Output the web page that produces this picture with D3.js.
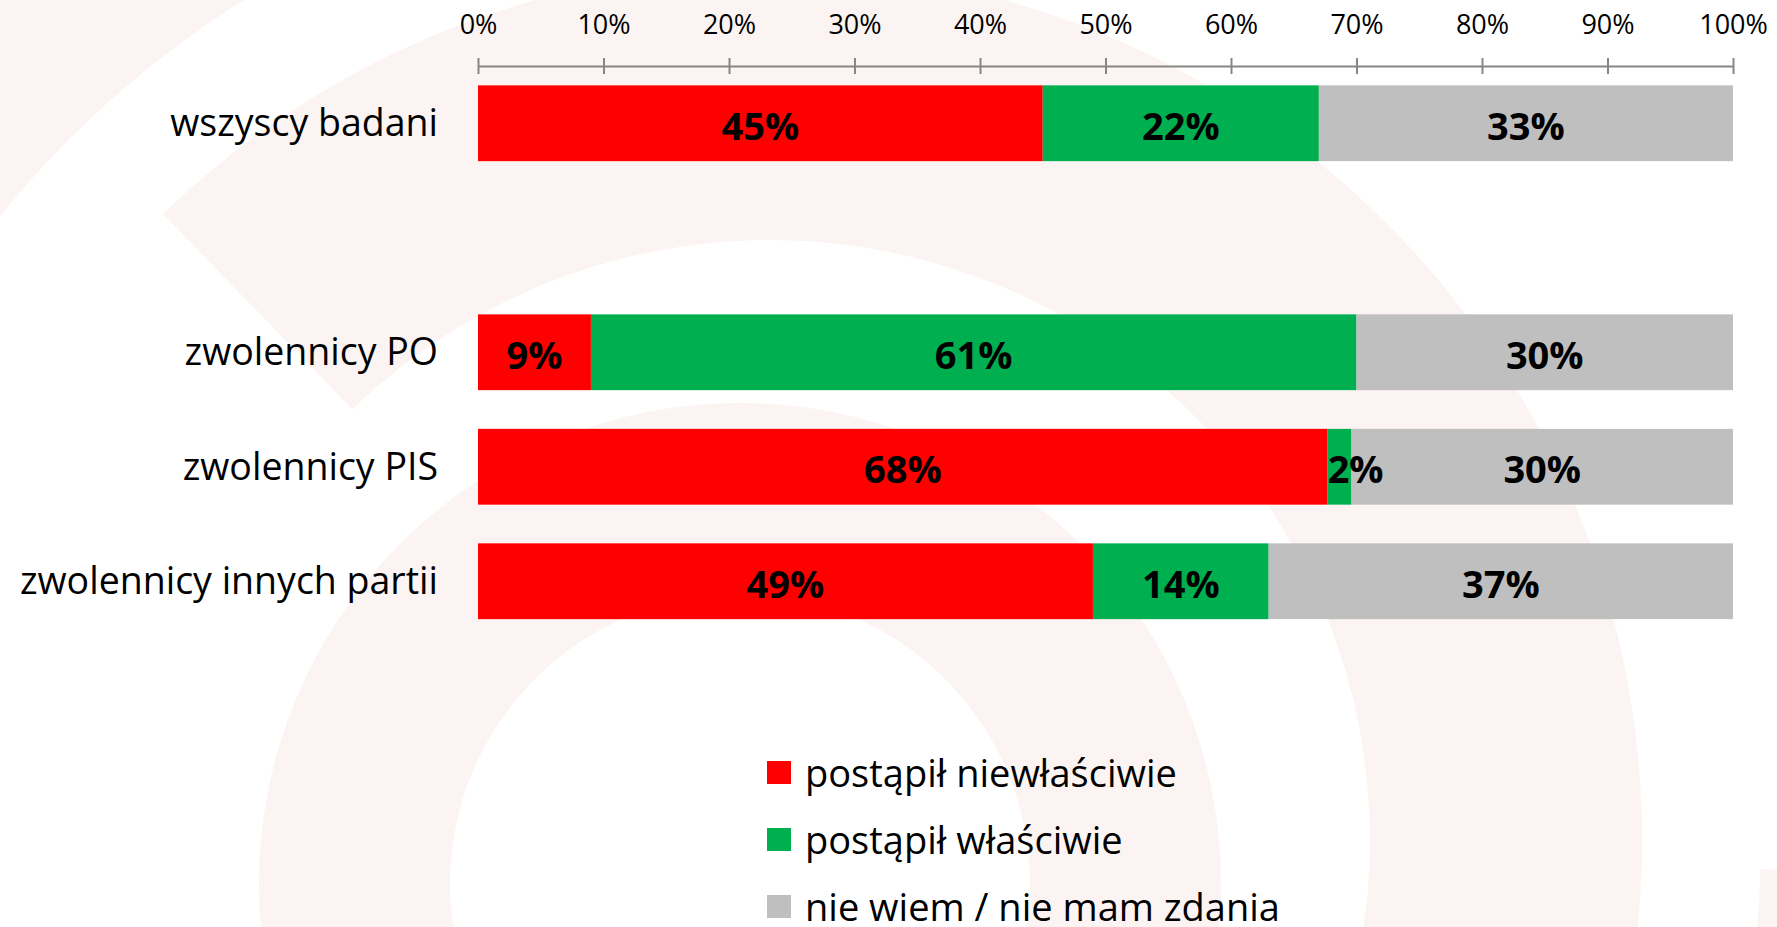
<!DOCTYPE html>
<html>
<head>
<meta charset="utf-8">
<script src="https://cdn.jsdelivr.net/npm/d3@7"></script>
<style>
  html, body { margin: 0; padding: 0; background: #fff; }
  svg { display: block; font-family: "Open Sans", sans-serif; }
</style>
</head>
<body>
<div id="chart"></div>
<script>
// categories (the blank one is the empty row under "wszyscy badani")
var categories = ['wszyscy badani', '', 'zwolennicy PO', 'zwolennicy PIS', 'zwolennicy innych partii'];

var seriesNames = ['postąpił niewłaściwie', 'postąpił właściwie', 'nie wiem / nie mam zdania'];
var seriesColors = ['#ff0000', '#00b050', '#bfbfbf'];

var niewlasciwie = [45, null, 9, 67.7, 49];
var wlasciwie = [22, null, 61, 1.9, 14];
var nieWiem = [33, null, 30, 30.4, 37];

var tickValues = [0, 10, 20, 30, 40, 50, 60, 70, 80, 90, 100];

var W = 1777, H = 927;

var svg = d3.select('#chart').append('svg')
	.attr('width', W)
	.attr('height', H);

// faint watermark rings in the background
var wm = svg.append('g').attr('fill', '#fcf4f2');
var rings = [
	{cx: 740, cy: 884, r0: 290, r1: 481, a0: 0, a1: 2 * Math.PI},
	{cx: 770, cy: 840, r0: 600, r1: 872, a0: -0.77, a1: 2.6},
	{cx: 770, cy: 840, r0: 991, r1: 1300, a0: 1.6, a1: 2 * Math.PI}
];
rings.forEach(function (r) {
	wm.append('path')
		.attr('transform', 'translate(' + r.cx + ',' + r.cy + ')')
		.attr('d', d3.arc()({innerRadius: r.r0, outerRadius: r.r1, startAngle: r.a0, endAngle: r.a1}));
});

var x = d3.scaleLinear().domain([0, 100]).range([478, 1733]);
var y = d3.scaleBand().domain(categories).range([66, 638.5])
	.paddingInner(0.338).paddingOuter(0.169);

// axis on top, ticks crossing the line
var axis = svg.append('g')
	.attr('transform', 'translate(0,66)')
	.call(d3.axisTop(x).tickValues(tickValues).tickSize(0).tickSizeOuter(0).tickPadding(32)
		.tickFormat(function (d) { return d + '%'; }));
axis.select('.domain').attr('stroke', '#868686').attr('stroke-width', 2);
axis.selectAll('.tick line').attr('stroke', '#868686').attr('stroke-width', 2)
	.attr('y1', -8).attr('y2', 8);
axis.selectAll('.tick text')
	.attr('font-family', '"Open Sans", sans-serif')
	.attr('font-size', 27)
	.attr('fill', '#000');

// stacked bars
var rows = categories.map(function (c, i) {
	return {cat: c, a: niewlasciwie[i], b: wlasciwie[i], c: nieWiem[i]};
}).filter(function (d) { return d.a !== null; });

var stack = d3.stack().keys(['a', 'b', 'c'])(rows);

var layers = svg.selectAll('g.layer').data(stack).enter()
	.append('g')
	.attr('class', 'layer')
	.attr('fill', function (d, i) { return seriesColors[i]; });

layers.selectAll('rect').data(function (d) { return d; }).enter()
	.append('rect')
	.attr('x', function (d) { return x(d[0]); })
	.attr('y', function (d) { return y(d.data.cat); })
	.attr('width', function (d) { return x(d[1]) - x(d[0]); })
	.attr('height', y.bandwidth());

// value labels, drawn above all the bars
var segments = [];
stack.forEach(function (s) { s.forEach(function (d) { segments.push(d); }); });

svg.append('g').selectAll('text').data(segments).enter()
	.append('text')
	.attr('y', function (d) { return y(d.data.cat) + y.bandwidth() / 2; })
	.attr('dy', '0.43em')
	.attr('font-size', 38)
	.attr('font-weight', 'bold')
	.attr('fill', '#000')
	.text(function (d) { return Math.round(d[1] - d[0]) + '%'; })
	.each(function (d) {
		var t = d3.select(this);
		var w = this.getComputedTextLength();
		var segW = x(d[1]) - x(d[0]);
		if (w > segW - 4) {
			t.attr('x', x(d[0])).attr('text-anchor', 'start');
		} else {
			t.attr('x', (x(d[0]) + x(d[1])) / 2).attr('text-anchor', 'middle');
		}
	});

// category labels
svg.append('g').selectAll('text').data(categories).enter()
	.append('text')
	.attr('x', 438)
	.attr('y', function (d) { return y(d) + y.bandwidth() / 2; })
	.attr('dy', '0.35em')
	.attr('text-anchor', 'end')
	.attr('font-size', 37.5)
	.attr('fill', '#000')
	.text(function (d) { return d; });

// legend
var legend = svg.append('g').attr('transform', 'translate(767,761)');
var item = legend.selectAll('g').data(seriesNames).enter()
	.append('g')
	.attr('transform', function (d, i) { return 'translate(0,' + (i * 67) + ')'; });
item.append('rect')
	.attr('width', 24)
	.attr('height', 23)
	.attr('fill', function (d, i) { return seriesColors[i]; });
item.append('text')
	.attr('x', 38)
	.attr('y', 11.5)
	.attr('dy', '0.38em')
	.attr('font-size', 38)
	.attr('fill', '#000')
	.text(function (d) { return d; });
</script>
</body>
</html>
